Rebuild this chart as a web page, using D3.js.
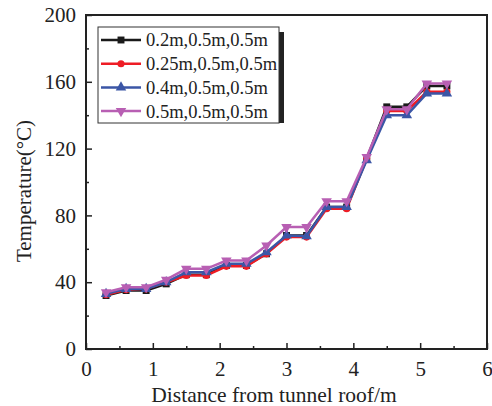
<!DOCTYPE html>
<html>
<head>
<meta charset="utf-8">
<script src="https://cdn.jsdelivr.net/npm/d3@7"></script>
<style>
  body { margin: 0; background: #fff; }
  svg { display: block; font-family: "Liberation Serif", "Times New Roman", serif; }
</style>
</head>
<body>
<div id="chart"></div>
<script>
// data
const distance = [0.3, 0.6, 0.9, 1.2, 1.5, 1.8, 2.1, 2.4, 2.7, 3.0, 3.3, 3.6, 3.9, 4.2, 4.5, 4.8, 5.1, 5.4]
const seriesNames = ["0.2m,0.5m,0.5m", "0.25m,0.5m,0.5m", "0.4m,0.5m,0.5m", "0.5m,0.5m,0.5m"]
const temp02 = [32, 35, 35, 39, 44.5, 44.5, 50, 50, 57, 68, 68, 85, 85, 114, 145, 145, 157.5, 157.5]
const temp025 = [32.5, 35.5, 36, 40, 44, 44, 49.5, 49.5, 57, 67, 67, 84, 84, 114, 142.5, 142.5, 154, 154]
const temp04 = [33, 36, 36, 40, 46, 46, 51, 51, 58, 68, 67.5, 85, 85, 113, 140, 140, 153, 153]
const temp05 = [34, 37, 37, 41.5, 48, 48, 53, 53, 62, 73, 73, 88.5, 88.5, 115, 143.5, 143.5, 159, 159]
const xTicks = [0, 1, 2, 3, 4, 5, 6]
const yTicks = [0, 40, 80, 120, 160, 200]

const colors = ["#1a1a1a", "#ee1c25", "#3b56a6", "#b85fb3"]
const symbols = [d3.symbolSquare, d3.symbolCircle, d3.symbolTriangle, d3.symbolTriangle]

const mainApp = () => {
    const width = 492
    const height = 406
    const margin = { top: 15, right: 5, bottom: 57, left: 86 }

    const svg = d3.select('#chart').append('svg')
        .attr('width', width)
        .attr('height', height)

    const x = d3.scaleLinear().domain([0, 6]).range([margin.left, width - margin.right])
    const y = d3.scaleLinear().domain([0, 200]).range([height - margin.bottom, margin.top])

    const series = [temp02, temp025, temp04, temp05].map((vals, i) => ({
        name: seriesNames[i],
        color: colors[i],
        symbol: symbols[i],
        flip: i === 3,
        points: vals.map((v, j) => ({ x: distance[j], y: v }))
    }))

    // minor ticks
    svg.append("g").attr("transform", `translate(0,${y(0)})`)
        .call(d3.axisBottom(x).tickValues([0.5, 1.5, 2.5, 3.5, 4.5, 5.5]).tickSize(-3).tickFormat(""))
        .call(g => g.select(".domain").remove())
        .call(g => g.selectAll("line").attr("stroke", "#222").attr("stroke-width", 1.5))
    svg.append("g").attr("transform", `translate(${x(0)},0)`)
        .call(d3.axisLeft(y).tickValues([20, 60, 100, 140, 180]).tickSize(-3).tickFormat(""))
        .call(g => g.select(".domain").remove())
        .call(g => g.selectAll("line").attr("stroke", "#222").attr("stroke-width", 1.5))

    // major axes
    svg.append("g").attr("transform", `translate(0,${y(0)})`)
        .call(d3.axisBottom(x).tickValues(xTicks).tickSize(-6).tickPadding(12).tickFormat(d3.format("d")))
        .call(g => g.select(".domain").remove())
        .call(g => g.selectAll("line").attr("stroke", "#222").attr("stroke-width", 1.5))
        .call(g => g.selectAll("text").attr("font-size", "21px").attr("fill", "#222")
            .attr("font-family", "'Liberation Serif', 'Times New Roman', serif"))
    svg.append("g").attr("transform", `translate(${x(0)},0)`)
        .call(d3.axisLeft(y).tickValues(yTicks).tickSize(-6).tickPadding(10))
        .call(g => g.select(".domain").remove())
        .call(g => g.selectAll("line").attr("stroke", "#222").attr("stroke-width", 1.5))
        .call(g => g.selectAll("text").attr("font-size", "21px").attr("fill", "#222")
            .attr("font-family", "'Liberation Serif', 'Times New Roman', serif"))

    // frame
    svg.append("rect")
        .attr("x", x(0)).attr("y", y(200))
        .attr("width", x(6) - x(0)).attr("height", y(0) - y(200))
        .attr("fill", "none").attr("stroke", "#222").attr("stroke-width", 2)

    // lines
    const line = d3.line().x(d => x(d.x)).y(d => y(d.y))
    series.forEach(s => {
        const g = svg.append("g")
        g.append("path").datum(s.points)
            .attr("d", line)
            .attr("fill", "none")
            .attr("stroke", s.color)
            .attr("stroke-width", 2.5)
        g.selectAll("path.pt").data(s.points).enter().append("path")
            .attr("class", "pt")
            .attr("d", d3.symbol().type(s.symbol).size(s.symbol === d3.symbolCircle ? 40 : 48))
            .attr("transform", d => `translate(${x(d.x)},${y(d.y)})${s.flip ? " rotate(180)" : ""}`)
            .attr("fill", s.color)
    })

    // legend
    const lg = svg.append("g")
    lg.append("rect").attr("x", 279).attr("y", 32).attr("width", 5).attr("height", 91).attr("fill", "#222")
    lg.append("rect").attr("x", 98).attr("y", 27).attr("width", 181).attr("height", 96)
        .attr("fill", "#fff").attr("stroke", "#333").attr("stroke-width", 1)
    series.forEach((s, i) => {
        const cy = 40 + i * 23.7
        lg.append("line").attr("x1", 101).attr("x2", 141).attr("y1", cy).attr("y2", cy)
            .attr("stroke", s.color).attr("stroke-width", 2.5)
        lg.append("path")
            .attr("d", d3.symbol().type(s.symbol).size(s.symbol === d3.symbolCircle ? 40 : 48))
            .attr("transform", `translate(121,${cy})${s.flip ? " rotate(180)" : ""}`)
            .attr("fill", s.color)
        lg.append("text").attr("x", 146).attr("y", cy).attr("dy", "0.35em")
            .attr("font-size", "18.5px").attr("fill", "#222").text(s.name)
    })

    // axis titles
    svg.append("text")
        .attr("x", 274).attr("y", 402)
        .attr("text-anchor", "middle").attr("font-size", "21.5px").attr("fill", "#222")
        .text("Distance from tunnel roof/m")
    svg.append("text")
        .attr("transform", `translate(31,191) rotate(-90)`)
        .attr("text-anchor", "middle").attr("font-size", "21px").attr("fill", "#222")
        .text("Temperature(°C)")
}

mainApp()
</script>
</body>
</html>
